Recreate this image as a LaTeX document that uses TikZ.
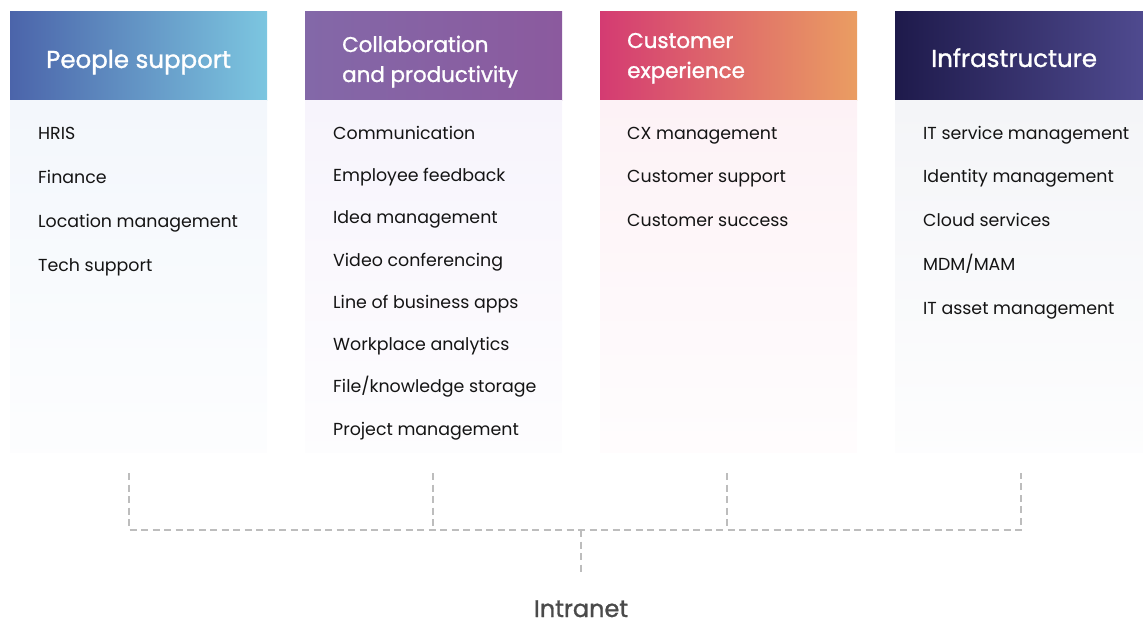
\documentclass[tikz,border=0pt]{standalone}
\usepackage{fontspec}
\setmainfont{Poppins}
\newfontfamily\hdrfont[FakeBold=1.2]{Poppins}
\newfontfamily\busfont[FakeBold=1.2]{Poppins}

% header gradients and column tints
\definecolor{psL}{HTML}{4B64AA}\definecolor{psR}{HTML}{7CC6E0}
\definecolor{coL}{HTML}{8368A8}\definecolor{coR}{HTML}{8B5A9E}
\definecolor{cxL}{HTML}{D43B72}\definecolor{cxR}{HTML}{EA9D62}
\definecolor{inL}{HTML}{1E1A4B}\definecolor{inR}{HTML}{4F4A8F}
\definecolor{psT}{HTML}{F3F7FC}\definecolor{coT}{HTML}{F7F4FC}
\definecolor{cxT}{HTML}{FDF2F6}\definecolor{inT}{HTML}{F4F5F8}
\definecolor{linkgray}{HTML}{BDBDBD}
\definecolor{busgray}{HTML}{4A4A4A}

\begin{document}
\begin{tikzpicture}[x=1pt,y=-1pt,
  item/.style={anchor=base west, inner sep=0pt, text=black!92,
    font=\fontsize{17.4}{20}\selectfont},
  hdr/.style={anchor=base west, inner sep=0pt, text=white,
    font=\hdrfont\fontsize{21.4}{26}\selectfont},
  hdrbig/.style={hdr, font=\hdrfont\fontsize{24.5}{28}\selectfont},
  link/.style={draw=linkgray, line width=2pt, dash pattern=on 7pt off 4.5pt}]
\useasboundingbox (0,0) rectangle (1143,623);

% column headers
\shade[left color=psL, right color=psR] (10,12) rectangle (267,101);
\shade[left color=coL, right color=coR] (305,12) rectangle (562,101);
\shade[left color=cxL, right color=cxR] (600,12) rectangle (857,101);
\shade[left color=inL, right color=inR] (895,12) rectangle (1143,101);

% column bodies
\shade[top color=psT, bottom color=psT!20!white] (10,101) rectangle (267,452);
\shade[top color=coT, bottom color=coT!20!white] (305,101) rectangle (562,452);
\shade[top color=cxT, bottom color=cxT!20!white] (600,101) rectangle (857,452);
\shade[top color=inT, bottom color=inT!20!white] (895,101) rectangle (1143,452);

% header titles
\node[hdrbig] (h1) at (46,68) {People support};
\node[hdr] (h2a) at (342,52) {Collaboration};
\node[hdr] (h2b) at (342,82) {and productivity};
\node[hdr] (h3a) at (627,48) {Customer};
\node[hdr] (h3b) at (627,78) {experience};
\node[hdrbig] (h4) at (931,67) {Infrastructure};

% people support
\node[item] (p1) at (38,139.5) {HRIS};
\node[item] (p2) at (38,183) {Finance};
\node[item] (p3) at (38,227) {Location management};
\node[item] (p4) at (38,271) {Tech support};

% collaboration and productivity
\node[item] (c1) at (333,139.5) {Communication};
\node[item] (c2) at (333,181.5) {Employee feedback};
\node[item] (c3) at (333,223.5) {Idea management};
\node[item] (c4) at (333,266.5) {Video conferencing};
\node[item] (c5) at (333,308.5) {Line of business apps};
\node[item] (c6) at (333,350.5) {Workplace analytics};
\node[item] (c7) at (333,392.5) {File/knowledge storage};
\node[item] (c8) at (333,435.5) {Project management};

% customer experience
\node[item] (x1) at (627,139.5) {CX management};
\node[item] (x2) at (627,182.5) {Customer support};
\node[item] (x3) at (627,226.5) {Customer success};

% infrastructure
\node[item] (i1) at (923,139.5) {IT service management};
\node[item] (i2) at (923,182.5) {Identity management};
\node[item] (i3) at (923,226.5) {Cloud services};
\node[item] (i4) at (923,270.5) {MDM/MAM};
\node[item] (i5) at (923,314.5) {IT asset management};

% intranet bus
\coordinate (t1) at (129,473); \coordinate (b1) at (129,530);
\coordinate (t2) at (433,473); \coordinate (b2) at (433,530);
\coordinate (t3) at (727,473); \coordinate (b3) at (727,530);
\coordinate (t4) at (1021,473); \coordinate (b4) at (1021,530);
\coordinate (bm) at (581,530); \coordinate (be) at (581,572);
\node[anchor=base, inner sep=0pt, text=busgray,
  font=\busfont\fontsize{24}{28}\selectfont] (net) at (581,617) {Intranet};

\draw[link] (t1) -- (b1) -- (b4) -- (t4);
\draw[link] (t2) -- (b2);
\draw[link] (t3) -- (b3);
\draw[link] (bm) -- (be);
\end{tikzpicture}
\end{document}
